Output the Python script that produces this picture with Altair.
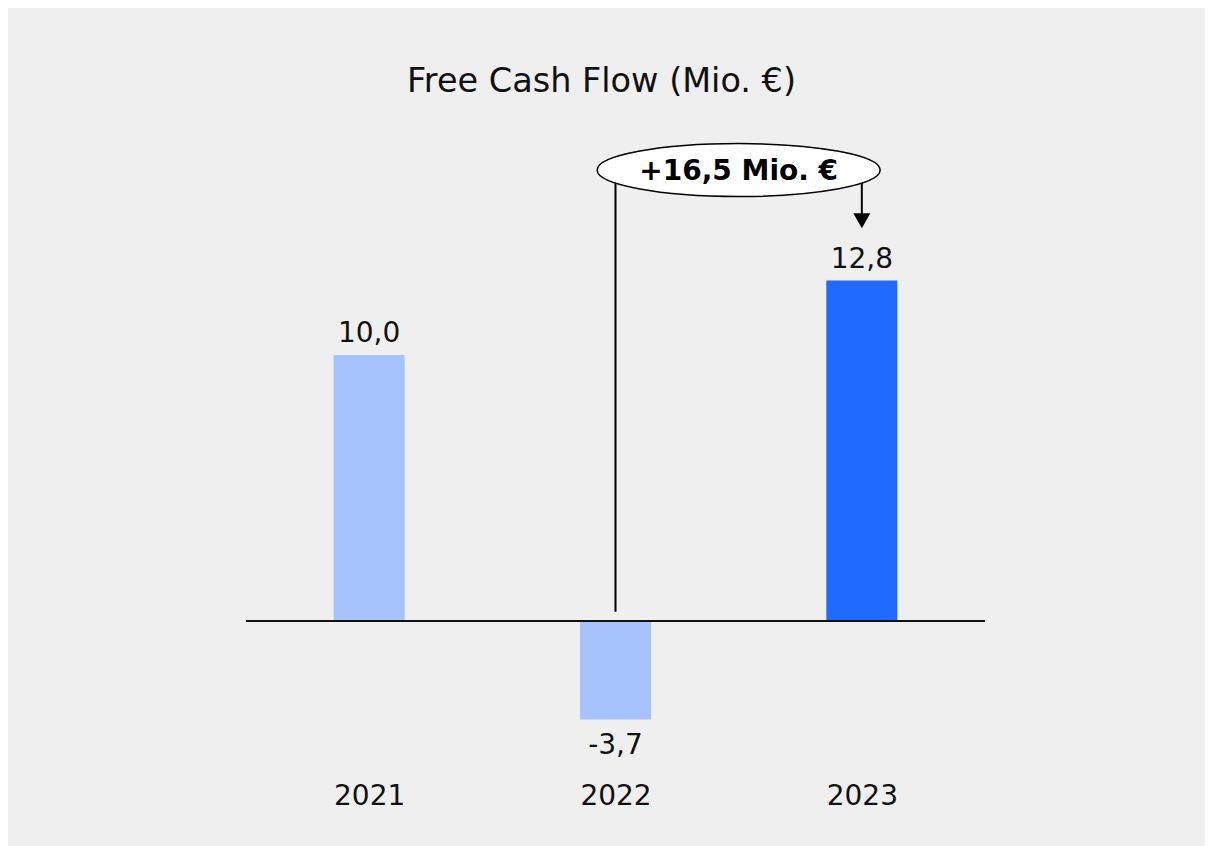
import altair as alt
import pandas as pd

# ---- data ----
years = ["2021", "2022", "2023"]
fcf = [10.0, -3.7, 12.8]
labels = [f"{v:.1f}".replace(".", ",") for v in fcf]
highlight_year = "2023"

# bracket annotation (change 2022 -> 2023)
bracket_from = 1
bracket_to = 2
bracket_level = 16.9
bracket_left_bottom = 0.35
arrow_head_level = 15.05
delta = round(fcf[bracket_to] - fcf[bracket_from], 1)
delta_label = "+" + f"{delta:.1f}".replace(".", ",") + " Mio. €"

FONT = "DejaVu Sans"
TXT = "#111111"
LIGHT = "#a6c3ff"
DARK = "#1f6aff"
BG = "#efefef"

df = pd.DataFrame({"idx": list(range(len(years))), "year": years,
                   "value": fcf, "label": labels})

lines = pd.DataFrame({
    "x": [bracket_from, bracket_to],
    "y": [bracket_left_bottom, arrow_head_level],
    "y2": [bracket_level, bracket_level],
})
head = pd.DataFrame({"x": [bracket_to], "y": [arrow_head_level]})
bubble = pd.DataFrame({"x": [(bracket_from + bracket_to) / 2],
                       "y": [bracket_level], "t": [delta_label]})

label_expr = "[" + ",".join(f"'{y}'" for y in years) + "][datum.value]"

xs = alt.Scale(domain=[-0.5, len(years) - 0.5], nice=False, zero=False, padding=0)
ys = alt.Scale(domain=[-5, 18.5], nice=False, zero=False, padding=0)

X = alt.X("idx:Q", scale=xs, axis=alt.Axis(
    values=list(range(len(years))), labelExpr=label_expr, title=None,
    domain=False, ticks=False, grid=False, labelFont=FONT, labelFontSize=28,
    labelColor=TXT, labelPadding=28, labelFlush=False))
Y = alt.Y("value:Q", scale=ys, axis=None)

base = alt.Chart(df)

bars = base.mark_bar(size=71).encode(
    x=X, y=Y, y2=alt.datum(0),
    color=alt.condition(alt.datum.year == highlight_year,
                        alt.value(DARK), alt.value(LIGHT)),
)

zero = alt.Chart(df).mark_rule(color="#111111", strokeWidth=2).encode(
    y=alt.Y(datum=0, scale=ys))

pos_lab = base.transform_filter(alt.datum.value >= 0).mark_text(
    font=FONT, fontSize=28, color=TXT, baseline="alphabetic", dy=-13
).encode(x=alt.X("idx:Q", scale=xs), y=alt.Y("value:Q", scale=ys), text="label:N")

neg_lab = base.transform_filter(alt.datum.value < 0).mark_text(
    font=FONT, fontSize=28, color=TXT, baseline="top", dy=13
).encode(x=alt.X("idx:Q", scale=xs), y=alt.Y("value:Q", scale=ys), text="label:N")

conn = alt.Chart(lines).mark_rule(color="#000000", strokeWidth=2).encode(
    x=alt.X("x:Q", scale=xs), y=alt.Y("y:Q", scale=ys), y2="y2:Q")

tri = "M -1 -0.88 L 1 -0.88 L 0 0.88 Z"
arrow = alt.Chart(head).mark_point(
    shape=tri, size=17 * 17, filled=True, color="#000000", opacity=1
).encode(x=alt.X("x:Q", scale=xs), y=alt.Y("y:Q", scale=ys))

r = 0.187
k = 0.5523
ell = (f"M -1 0 C -1 {-k*r:.4f} {-k:.4f} {-r} 0 {-r} "
       f"C {k:.4f} {-r} 1 {-k*r:.4f} 1 0 "
       f"C 1 {k*r:.4f} {k:.4f} {r} 0 {r} "
       f"C {-k:.4f} {r} -1 {k*r:.4f} -1 0 Z")
ellipse = alt.Chart(bubble).mark_point(
    shape=ell, size=283 * 283, filled=True, fill="white", stroke="#000000",
    strokeWidth=1.5, opacity=1, fillOpacity=1, strokeOpacity=1, yOffset=-1.5
).encode(x=alt.X("x:Q", scale=xs), y=alt.Y("y:Q", scale=ys))

bubble_txt = alt.Chart(bubble).mark_text(
    font=FONT, fontSize=28, fontWeight="bold", color="#000000", baseline="middle"
).encode(x=alt.X("x:Q", scale=xs), y=alt.Y("y:Q", scale=ys), text="t:N")

chart = alt.layer(bars, zero, conn, arrow, ellipse, bubble_txt, pos_lab, neg_lab).properties(
    width=739, height=625,
    title=alt.TitleParams("Free Cash Flow (Mio. €)", font=FONT, fontSize=33.5,
                          fontWeight="normal", color=TXT, anchor="middle",
                          offset=30, dx=-14, frame="group"),
    autosize=alt.AutoSizeParams(type="none"),
    padding={"left": 238, "top": 121, "right": 220, "bottom": 100},
    background=BG,
).configure_view(stroke=None)

chart.save("out.html", embed_options={"renderer": "svg", "actions": False})
